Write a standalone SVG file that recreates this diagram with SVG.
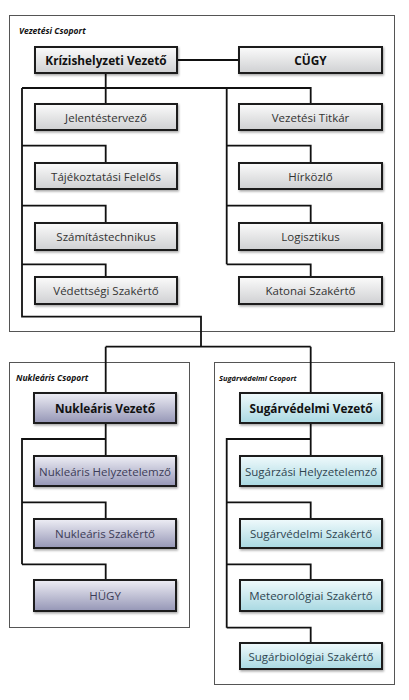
<svg xmlns="http://www.w3.org/2000/svg" width="409" height="700" viewBox="0 0 409 700">
<defs>
<linearGradient id="gGray" x1="0" y1="0" x2="0" y2="1"><stop offset="0" stop-color="#fbfbfb"/><stop offset="1" stop-color="#cfd0d2"/></linearGradient>
<linearGradient id="gPurple" x1="0" y1="0" x2="0" y2="1"><stop offset="0" stop-color="#eeeef5"/><stop offset="1" stop-color="#9596b6"/></linearGradient>
<linearGradient id="gCyan" x1="0" y1="0" x2="0" y2="1"><stop offset="0" stop-color="#f0fafc"/><stop offset="1" stop-color="#a9d9e2"/></linearGradient>
<filter id="sh" x="-5%" y="-10%" width="115%" height="140%"><feDropShadow dx="1" dy="1.5" stdDeviation="0.8" flood-color="#000" flood-opacity="0.35"/></filter>
</defs>
<style>
.grp{fill:#fff;stroke:#555;stroke-width:1}
.gt{font-family:"Open Sans","DejaVu Sans",sans-serif;font-size:8.5px;font-weight:bold;font-style:italic;fill:#111}
.box{stroke:#1a1a1a;stroke-width:2;filter:url(#sh)}
.gray{fill:url(#gGray)}
.purple{fill:url(#gPurple)}
.cyan{fill:url(#gCyan)}
.t{font-family:"Open Sans","DejaVu Sans",sans-serif;font-size:11.5px;fill:#333;text-anchor:middle;dominant-baseline:central}
.tp{fill:#3c3c58}
.tc{fill:#2f4550}
.b{font-weight:bold;font-size:11.8px;fill:#111}
.c{fill:none;stroke:#111;stroke-width:1.8}
</style>
<rect width="409" height="700" fill="#fff"/>
<g id="grp-vezetesi"><rect class="grp" x="9.5" y="15.5" width="385" height="316"/><text class="gt" x="19" y="34">Vezetési Csoport</text></g>
<g id="grp-nuklearis"><rect class="grp" x="9.5" y="362.5" width="180" height="265"/><text class="gt" x="16" y="381">Nukleáris Csoport</text></g>
<g id="grp-sugarvedelmi"><rect class="grp" x="214.5" y="362.5" width="180" height="322"/><text class="gt" x="219" y="381" style="font-size:7.5px">Sugárvédelmi Csoport</text></g>
<g id="connectors">
<path class="c" d="M177,60 H239"/>
<path class="c" d="M105.7,73 V88 M22,88 H310.7 V104 M105.7,88 V104"/>
<path class="c" d="M22,88 V316.7 H201 V346.7 M105.7,346.7 H310.7 M105.7,346.7 V393 M310.7,346.7 V393"/>
<path class="c" d="M22,145.7 H105.7 V163 M22,205.7 H105.7 V223 M22,264.3 H105.7 V277"/>
<path class="c" d="M226.7,88 V264.3 M226.7,145.7 H310.7 V163 M226.7,205.7 H310.7 V223 M226.7,264.3 H310.7 V277"/>
<path class="c" d="M105.7,423 V439 H22 V564.3 M105.7,439 V456 M22,502.3 H105.7 V519 M22,564.3 H105.7 V580"/>
<path class="c" d="M310.7,423 V439 H226.7 V627.7 M310.7,439 V456 M226.7,502.3 H310.7 V519 M226.7,564.3 H310.7 V580 M226.7,627.7 H310.7 V643"/>
</g>
<g id="n-krizis"><rect class="box gray" x="35" y="47" width="142" height="26"/><text class="t b" x="106" y="60">Krízishelyzeti Vezető</text></g>
<g id="n-cugy"><rect class="box gray" x="239" y="47" width="143" height="26"/><text class="t b" x="310.5" y="60">CÜGY</text></g>
<g id="n-jelentes"><rect class="box gray" x="35" y="104" width="142" height="26"/><text class="t" x="106" y="117">Jelentéstervező</text></g>
<g id="n-tajekoztatasi"><rect class="box gray" x="35" y="163" width="142" height="26"/><text class="t" x="106" y="176">Tájékoztatási Felelős</text></g>
<g id="n-szamitas"><rect class="box gray" x="35" y="223" width="142" height="27"/><text class="t" x="106" y="236.5">Számítástechnikus</text></g>
<g id="n-vedettsegi"><rect class="box gray" x="35" y="277" width="142" height="27"/><text class="t" x="106" y="290.5">Védettségi Szakértő</text></g>
<g id="n-titkar"><rect class="box gray" x="239" y="104" width="143" height="26"/><text class="t" x="310.5" y="117">Vezetési Titkár</text></g>
<g id="n-hirkozlo"><rect class="box gray" x="239" y="163" width="143" height="26"/><text class="t" x="310.5" y="176">Hírközlő</text></g>
<g id="n-logisztikus"><rect class="box gray" x="239" y="223" width="143" height="27"/><text class="t" x="310.5" y="236.5">Logisztikus</text></g>
<g id="n-katonai"><rect class="box gray" x="239" y="277" width="143" height="27"/><text class="t" x="310.5" y="290.5">Katonai Szakértő</text></g>
<g id="n-nuk-vezeto"><rect class="box purple" x="34" y="393" width="142" height="30"/><text class="t b" x="105" y="408">Nukleáris Vezető</text></g>
<g id="n-nuk-helyzet"><rect class="box purple" x="34" y="456" width="142" height="30"/><text class="t tp" x="105" y="471">Nukleáris Helyzetelemző</text></g>
<g id="n-nuk-szakerto"><rect class="box purple" x="34" y="519" width="142" height="29"/><text class="t tp" x="105" y="533.5">Nukleáris Szakértő</text></g>
<g id="n-hugy"><rect class="box purple" x="34" y="580" width="142" height="31"/><text class="t tp" x="105" y="595.5">HÜGY</text></g>
<g id="n-sug-vezeto"><rect class="box cyan" x="240" y="393" width="142" height="30"/><text class="t b" x="311" y="408">Sugárvédelmi Vezető</text></g>
<g id="n-sug-helyzet"><rect class="box cyan" x="240" y="456" width="142" height="30"/><text class="t tc" x="311" y="471">Sugárzási Helyzetelemző</text></g>
<g id="n-sug-szakerto"><rect class="box cyan" x="240" y="519" width="142" height="29"/><text class="t tc" x="311" y="533.5">Sugárvédelmi Szakértő</text></g>
<g id="n-meteo"><rect class="box cyan" x="240" y="580" width="142" height="31"/><text class="t tc" x="311" y="595.5">Meteorológiai Szakértő</text></g>
<g id="n-sugarbio"><rect class="box cyan" x="240" y="643" width="142" height="26"/><text class="t tc" x="311" y="656">Sugárbiológiai Szakértő</text></g>
</svg>
